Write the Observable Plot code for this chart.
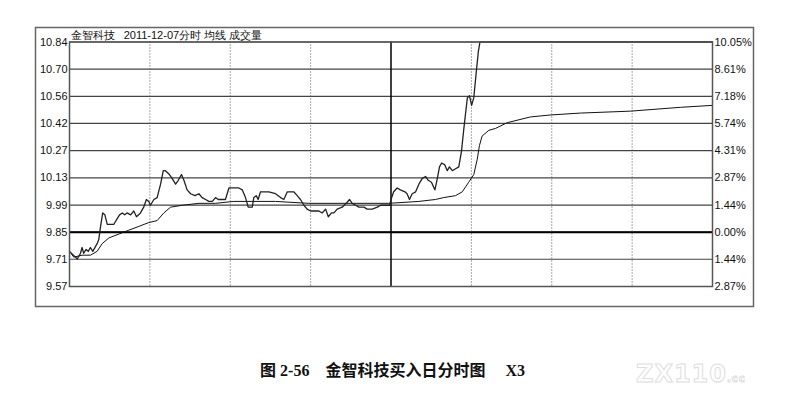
<!DOCTYPE html>
<html>
<head>
<meta charset="utf-8">
<script src="https://cdn.jsdelivr.net/npm/d3@7"></script>
<script src="https://cdn.jsdelivr.net/npm/@observablehq/plot@0.6"></script>
<style>
  body { margin: 0; background: #fff; }
  #wrap { position: relative; width: 785px; height: 400px; overflow: hidden; }
  #caption {
    position: absolute; left: 0; width: 785px; top: 357px; line-height: 20px;
    text-align: center; font: bold 16px "Liberation Serif", "Noto Sans CJK SC", serif;
    color: #111; white-space: pre;
  }
  #mark {
    position: absolute; left: 636px; top: 360px; font: bold 24px "DejaVu Sans", sans-serif;
    color: #fff; -webkit-text-stroke: 1px #dedede; letter-spacing: 1px;
  }
  #mark span { font-size: 10px; }
</style>
</head>
<body>
<div id="wrap">
  <div id="chart"></div>
  <div id="caption">图 2-56    金智科技买入日分时图     X3</div>
  <div id="mark">ZX110<span>.cc</span></div>
</div>
<script>
// 分时价格 (分钟, 价格)
const minutes = [
  0, 2.2, 2.9, 4.1, 4.7, 5.3, 6.2, 7.0, 7.8, 8.7,
  10.3, 10.9, 11.6, 12.4, 13.2, 14.1, 15.3, 16.5, 17.8, 18.7,
  19.7, 20.6, 21.5, 22.8, 24.0, 25.0, 26.5, 27.7, 28.7, 29.6,
  30.2, 31.5, 32.7, 34.0, 35.0, 35.8, 37.3, 38.3, 39.6, 40.6,
  41.8, 42.7, 43.9, 45.2, 46.8, 48.3, 49.5, 50.8, 52.0, 53.3,
  54.5, 55.5, 57.0, 58.2, 59.5, 61.3, 63.2, 64.5, 65.7, 66.7,
  68.2, 68.8, 69.7, 70.4, 71.3, 72.5, 74.4, 76.9, 78.8, 80.0,
  81.3, 82.5, 83.7, 85.0, 86.2, 87.5, 88.7, 90.0, 91.2, 93.1,
  94.3, 95.6, 96.6, 97.8, 98.7, 99.9, 101.8, 103.3, 104.5, 105.5,
  106.8, 108.0, 109.9, 111.1, 113.0, 114.9, 116.1, 118.0, 119.5, 120,
  121.0, 122.3, 123.5, 125.2, 126.0, 126.9, 127.9, 129.2, 130.4, 131.7,
  132.9, 133.9, 135.1, 136.4, 137.3, 138.1, 138.9, 140.1, 141.0, 141.8,
  142.9, 144.1, 145.3, 146.3, 147.2, 148.5, 149.3, 150.1, 150.9, 151.8,
  152.6, 153.2, 240
]
const prices = [
  9.75, 9.72, 9.71, 9.74, 9.77, 9.74, 9.76, 9.75, 9.77, 9.75,
  9.79, 9.81, 9.88, 9.95, 9.94, 9.89, 9.89, 9.89, 9.92, 9.94,
  9.95, 9.94, 9.95, 9.94, 9.96, 9.93, 9.95, 9.98, 10.02, 10.01,
  9.99, 10.02, 10.03, 10.10, 10.17, 10.17, 10.15, 10.13, 10.10, 10.12,
  10.15, 10.12, 10.07, 10.05, 10.04, 10.05, 10.03, 10.02, 10.01, 10.01,
  10.03, 10.02, 10.02, 10.02, 10.08, 10.08, 10.08, 10.07, 10.03, 9.98,
  9.98, 10.03, 10.04, 10.02, 10.06, 10.06, 10.06, 10.05, 10.03, 10.02,
  10.06, 10.06, 10.06, 10.04, 10.02, 9.99, 9.97, 9.96, 9.96, 9.96,
  9.95, 9.97, 9.93, 9.95, 9.95, 9.97, 9.98, 10.00, 10.02, 10.00,
  9.99, 9.98, 9.98, 9.97, 9.97, 9.98, 9.99, 9.99, 9.99, 10.02,
  10.06, 10.08, 10.07, 10.06, 10.05, 10.02, 10.05, 10.06, 10.10, 10.13,
  10.14, 10.12, 10.11, 10.07, 10.13, 10.19, 10.21, 10.20, 10.17, 10.19,
  10.17, 10.18, 10.19, 10.27, 10.39, 10.55, 10.56, 10.51, 10.55, 10.68,
  10.79, 10.84, 10.84
]

// 均价线
const avgMinutes = [
  0, 1.6, 4.7, 7.8, 10.3, 12.2, 14.7, 18.4, 22.1, 25.9,
  29.6, 32.7, 35.2, 37.7, 42.1, 48.3, 54.5, 61.3, 76.9, 89.3,
  104.9, 119.2, 130.4, 136.6, 139.7, 144.1, 146.6, 149.0, 150.9, 152.2,
  153.0, 154.0, 156.5, 159.0, 163.4, 172.1, 179.5, 190.7, 209.4, 228.1,
  240
]
const avgPrices = [
  9.75, 9.72, 9.73, 9.73, 9.75, 9.79, 9.82, 9.84, 9.86, 9.88,
  9.90, 9.91, 9.95, 9.98, 9.99, 10.00, 10.00, 10.01, 10.01, 10.00,
  10.00, 10.00, 10.01, 10.02, 10.03, 10.04, 10.06, 10.11, 10.15, 10.23,
  10.30, 10.35, 10.38, 10.39, 10.42, 10.45, 10.46, 10.47, 10.48, 10.50,
  10.51
]

const prevClose = 9.85
const priceTicks = [9.567, 9.709, 9.85, 9.991, 10.133, 10.274, 10.416, 10.557, 10.699, 10.84]
const priceLabels = ['9.57', '9.71', '9.85', '9.99', '10.13', '10.27', '10.42', '10.56', '10.70', '10.84']
const pctLabels = ['2.87%', '1.44%', '0.00%', '1.44%', '2.87%', '4.31%', '5.74%', '7.18%', '8.61%', '10.05%']
const halfHours = [30, 60, 90, 150, 180, 210]
const noon = 120
const title = '金智科技   2011-12-07分时 均线 成交量'

const priceData = minutes.map((t, i) => ({ t, p: prices[i] }))
const avgData = avgMinutes.map((t, i) => ({ t, p: avgPrices[i] }))
const leftLabel = new Map(priceTicks.map((d, i) => [d, priceLabels[i]]))
const rightLabel = new Map(priceTicks.map((d, i) => [d, pctLabels[i]]))

const chart = Plot.plot({
  width: 785,
  height: 320,
  marginLeft: 69,
  marginRight: 73,
  marginTop: 41.5,
  marginBottom: 34,
  style: { fontFamily: '"Liberation Sans", Arial, sans-serif', fontSize: '11px', color: '#111', background: '#fff' },
  x: { domain: [0, 240], axis: null },
  y: { domain: [9.567, 10.84], axis: null },
  marks: [
    Plot.ruleY(priceTicks, { stroke: '#444', strokeWidth: 1.2 }),
    Plot.ruleY([prevClose], { stroke: '#000', strokeWidth: 2 }),
    Plot.ruleX(halfHours, { stroke: '#555', strokeDasharray: '1,2' }),
    Plot.ruleX([noon], { stroke: '#000', strokeWidth: 1.5 }),
    Plot.line(avgData, { x: 't', y: 'p', stroke: '#111', strokeWidth: 1 }),
    Plot.line(priceData, { x: 't', y: 'p', stroke: '#222', strokeWidth: 1.3 }),
    Plot.frame({ stroke: '#555', strokeWidth: 1.5 }),
    Plot.axisY(priceTicks, { anchor: 'left', label: null, tickSize: 0, tickPadding: 2, tickFormat: d => leftLabel.get(d), fill: '#111' }),
    Plot.axisY(priceTicks, { anchor: 'right', label: null, tickSize: 0, tickPadding: 2, tickFormat: d => rightLabel.get(d), fill: '#111' }),
    Plot.text([title], { frameAnchor: 'top-left', dx: 1, dy: -3, lineAnchor: 'bottom', textAnchor: 'start', fontSize: 11, fill: '#111' })
  ]
})

// 外框
d3.select(chart).append('rect')
  .attr('x', 35.5).attr('y', 27.5).attr('width', 718).attr('height', 279)
  .attr('fill', 'none').attr('stroke', '#666').attr('stroke-width', 1.5)

d3.select('#chart').append(() => chart)
</script>
</body>
</html>
